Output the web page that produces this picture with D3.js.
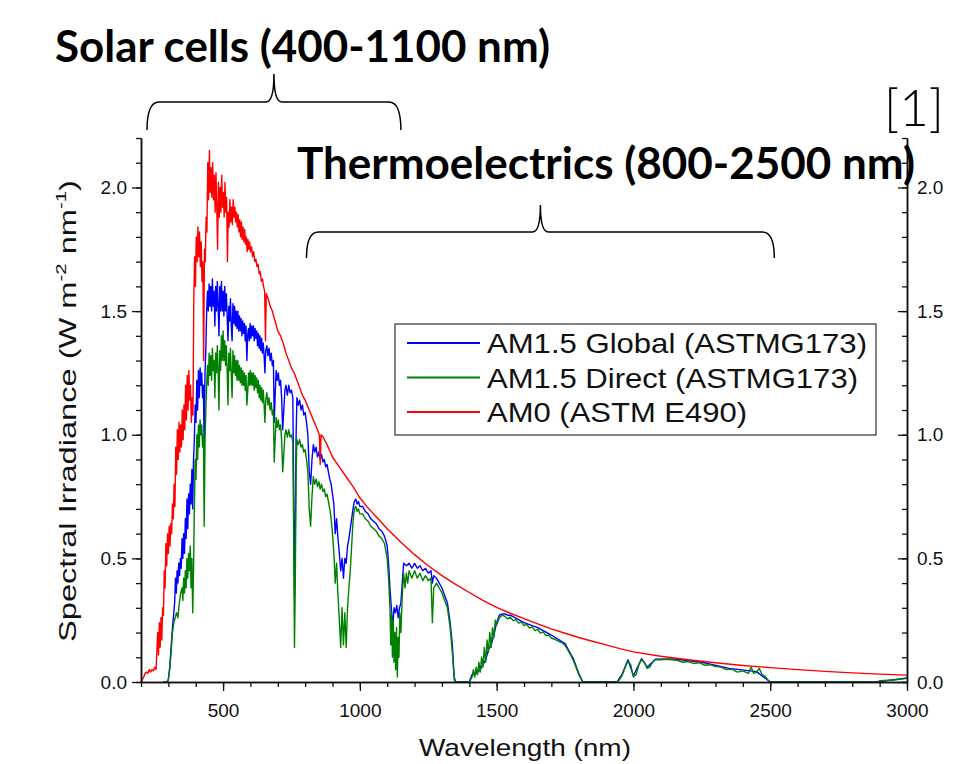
<!DOCTYPE html>
<html><head><meta charset="utf-8">
<script src="https://cdn.jsdelivr.net/npm/d3@7/dist/d3.min.js"></script>
<style>body{margin:0;background:#fff}svg{display:block}</style>
</head><body>
<script>
// ---------- DATA ----------
const xTicks = [500, 1000, 1500, 2000, 2500, 3000];
const yTicks = [0.0, 0.5, 1.0, 1.5, 2.0];
const seriesNames = ["AM1.5 Global (ASTMG173)", "AM1.5 Direct (ASTMG173)", "AM0 (ASTM E490)"];
const seriesColors = ["#0000ff", "#008000", "#ff0000"];
const annotations = ["Solar cells (400-1100 nm)", "Thermoelectrics (800-2500 nm)", "[1]"];
const braceRanges = [[222, 1150], [805, 2515]];

// AM0 (ASTM E490): [wavelength nm, W m^-2 nm^-1]
const am0 = [[200,0.00],[205,0.01],[210,0.02],[215,0.035],[220,0.04],[225,0.035],[230,0.05],[235,0.04],[240,0.05],[245,0.045],[250,0.06],[255,0.05],[258,0.12],[261,0.2],[264,0.11],[267,0.24],[270,0.14],[273,0.26],[276,0.17],[279,0.3],[282,0.27],[285,0.45],[288,0.38],[291,0.56],[294,0.47],[297,0.6],[300,0.52],[303,0.63],[306,0.55],[309,0.64],[312,0.6],[315,0.72],[318,0.66],[321,0.8],[324,0.71],[327,0.95],[330,0.84],[333,1.02],[336,0.9],[339,1.05],[342,0.93],[345,1.04],[348,0.95],[351,1.1],[354,0.98],[357,1.12],[360,1.02],[363,1.2],[366,1.06],[369,1.24],[372,1.1],[375,1.26],[378,1.14],[381,1.2],[384,1.05],[387,1.15],[390,1.08],[393,1.55],[396,1.72],[399,1.6],[402,1.8],[405,1.7],[408,1.84],[411,1.72],[414,1.82],[417,1.68],[420,1.78],[423,1.62],[426,1.7],[429,1.3],[432,1.75],[435,1.7],[438,1.88],[441,1.82],[444,2.1],[447,1.95],[450,2.15],[453,1.98],[456,2.08],[459,1.96],[462,2.1],[465,1.95],[468,2.05],[471,1.9],[474,2.06],[477,1.92],[480,1.75],[483,2.02],[486,1.88],[489,2.0],[492,1.9],[495,2.05],[498,1.92],[501,1.98],[504,1.88],[507,2.02],[510,1.9],[513,1.96],[516,1.7],[519,1.9],[522,1.84],[525,1.95],[528,1.86],[531,1.92],[534,1.85],[537,1.95],[540,1.88],[543,1.92],[546,1.86],[549,1.9],[552,1.84],[555,1.89],[558,1.82],[561,1.87],[564,1.8],[567,1.86],[570,1.79],[573,1.84],[576,1.78],[579,1.83],[582,1.77],[585,1.8],[588,1.74],[591,1.79],[594,1.75],[597,1.78],[600,1.74],[604,1.76],[608,1.72],[612,1.74],[616,1.7],[620,1.71],[624,1.68],[628,1.69],[632,1.65],[636,1.66],[640,1.62],[644,1.63],[648,1.6],[652,1.58],[655,1.38],[658,1.57],[665,1.55],[672,1.52],[680,1.5],[690,1.46],[700,1.42],[710,1.4],[720,1.37],[730,1.33],[740,1.3],[750,1.27],[760,1.25],[770,1.22],[780,1.19],[790,1.16],[800,1.14],[815,1.1],[830,1.06],[845,1.02],[852,1.0],[855,0.88],[858,1.0],[866,0.99],[880,0.96],[900,0.91],[925,0.87],[950,0.83],[975,0.79],[1000,0.745],[1025,0.71],[1050,0.68],[1075,0.65],[1100,0.62],[1150,0.565],[1200,0.515],[1250,0.47],[1300,0.43],[1350,0.395],[1400,0.362],[1450,0.33],[1500,0.302],[1550,0.278],[1600,0.256],[1650,0.235],[1700,0.215],[1750,0.197],[1800,0.18],[1850,0.165],[1900,0.15],[1950,0.135],[2000,0.122],[2100,0.104],[2200,0.09],[2300,0.078],[2400,0.067],[2500,0.058],[2600,0.05],[2700,0.043],[2800,0.037],[2900,0.032],[3000,0.028]];

// AM1.5 Global
const global15 = [[280,0],[295,0],[300,0.01],[305,0.06],[310,0.14],[315,0.22],[320,0.28],[323,0.32],[326,0.42],[329,0.36],[332,0.45],[335,0.4],[338,0.48],[341,0.43],[344,0.5],[347,0.46],[350,0.58],[353,0.5],[356,0.6],[359,0.52],[362,0.66],[365,0.58],[368,0.74],[371,0.62],[374,0.76],[377,0.68],[380,0.8],[383,0.72],[386,0.86],[389,0.7],[392,0.9],[395,0.98],[398,1.12],[401,1.05],[404,1.22],[407,1.1],[410,1.26],[413,1.15],[416,1.27],[419,1.2],[422,1.25],[425,1.15],[428,1.2],[431,0.95],[434,1.25],[437,1.35],[440,1.5],[443,1.58],[446,1.5],[449,1.61],[452,1.52],[455,1.6],[458,1.5],[461,1.63],[464,1.52],[467,1.58],[470,1.44],[473,1.6],[476,1.5],[479,1.62],[482,1.52],[485,1.4],[488,1.6],[491,1.5],[494,1.62],[497,1.5],[500,1.58],[503,1.48],[506,1.6],[509,1.5],[512,1.57],[515,1.48],[518,1.38],[521,1.52],[524,1.46],[527,1.55],[530,1.44],[533,1.38],[536,1.53],[539,1.45],[542,1.52],[545,1.44],[548,1.5],[551,1.43],[554,1.5],[557,1.42],[560,1.48],[563,1.42],[566,1.47],[569,1.4],[572,1.46],[575,1.41],[578,1.45],[581,1.38],[584,1.44],[587,1.3],[590,1.4],[593,1.43],[596,1.38],[599,1.45],[602,1.39],[605,1.44],[608,1.4],[611,1.44],[614,1.38],[617,1.43],[620,1.39],[623,1.42],[626,1.36],[629,1.41],[632,1.35],[635,1.4],[638,1.34],[641,1.39],[644,1.33],[647,1.37],[650,1.32],[653,1.25],[656,1.34],[660,1.36],[664,1.32],[668,1.35],[672,1.3],[676,1.33],[680,1.28],[684,1.3],[687,1.05],[690,1.15],[694,1.26],[698,1.22],[702,1.25],[706,1.2],[710,1.22],[714,1.15],[718,1.02],[722,1.1],[726,1.18],[730,1.2],[735,1.16],[740,1.2],[745,1.17],[750,1.18],[755,1.15],[758,0.8],[761,0.35],[764,0.6],[767,1.0],[770,1.15],[775,1.12],[780,1.14],[785,1.1],[790,1.12],[795,1.08],[800,1.09],[805,1.05],[810,1.0],[815,0.85],[820,0.8],[825,0.9],[830,0.96],[835,0.93],[840,0.95],[845,0.91],[850,0.93],[855,0.9],[860,0.92],[865,0.89],[870,0.9],[875,0.87],[880,0.88],[885,0.85],[890,0.82],[895,0.8],[900,0.76],[905,0.72],[910,0.6],[915,0.66],[920,0.58],[925,0.52],[930,0.45],[935,0.5],[940,0.42],[945,0.5],[950,0.48],[955,0.55],[960,0.58],[965,0.62],[970,0.66],[975,0.7],[980,0.73],[985,0.74],[990,0.72],[995,0.73],[1000,0.71],[1010,0.71],[1020,0.69],[1030,0.68],[1040,0.66],[1050,0.65],[1060,0.64],[1070,0.62],[1080,0.61],[1090,0.59],[1100,0.55],[1105,0.48],[1110,0.38],[1115,0.3],[1120,0.22],[1125,0.3],[1130,0.28],[1135,0.31],[1140,0.26],[1145,0.3],[1150,0.32],[1155,0.4],[1160,0.48],[1170,0.47],[1180,0.48],[1190,0.46],[1200,0.48],[1210,0.46],[1220,0.47],[1230,0.45],[1240,0.46],[1250,0.44],[1260,0.45],[1265,0.4],[1270,0.43],[1280,0.42],[1290,0.4],[1300,0.38],[1310,0.35],[1320,0.32],[1330,0.24],[1338,0.15],[1345,0.02],[1350,0],[1400,0],[1410,0.03],[1420,0.03],[1430,0.04],[1440,0.05],[1450,0.07],[1460,0.09],[1470,0.13],[1480,0.15],[1490,0.19],[1500,0.24],[1510,0.27],[1520,0.275],[1530,0.275],[1540,0.27],[1550,0.27],[1600,0.24],[1650,0.22],[1700,0.19],[1750,0.155],[1780,0.095],[1800,0.035],[1815,0],[1940,0],[1960,0.035],[1980,0.09],[2000,0.025],[2030,0.095],[2050,0.06],[2080,0.092],[2150,0.093],[2250,0.08],[2350,0.055],[2450,0.042],[2500,0],[2890,0],[3000,0.016]];

// AM1.5 Direct
const direct15 = [[290,0],[297,0],[300,0.01],[305,0.05],[310,0.12],[315,0.2],[320,0.24],[325,0.26],[330,0.28],[335,0.26],[340,0.32],[345,0.36],[350,0.38],[353,0.33],[356,0.42],[359,0.36],[362,0.45],[365,0.38],[368,0.5],[371,0.42],[374,0.52],[377,0.45],[380,0.55],[383,0.38],[386,0.5],[389,0.28],[392,0.45],[395,0.7],[398,0.9],[401,0.82],[404,1.0],[407,0.9],[410,1.04],[413,0.95],[416,1.06],[419,1.0],[422,1.04],[425,0.95],[428,1.0],[431,0.63],[434,0.98],[437,1.1],[440,1.2],[443,1.28],[446,1.2],[449,1.33],[452,1.24],[455,1.32],[458,1.22],[461,1.35],[464,1.26],[467,1.3],[470,1.15],[473,1.33],[476,1.25],[479,1.36],[482,1.26],[485,1.1],[488,1.34],[491,1.26],[494,1.4],[497,1.3],[500,1.42],[503,1.3],[506,1.38],[509,1.28],[512,1.36],[515,1.26],[518,1.12],[521,1.33],[524,1.26],[527,1.35],[530,1.24],[533,1.15],[536,1.34],[539,1.25],[542,1.32],[545,1.24],[548,1.3],[551,1.22],[554,1.3],[557,1.22],[560,1.28],[563,1.21],[566,1.27],[569,1.2],[572,1.26],[575,1.2],[578,1.25],[581,1.18],[584,1.24],[587,1.12],[590,1.17],[593,1.25],[596,1.2],[599,1.26],[602,1.2],[605,1.25],[608,1.2],[611,1.25],[614,1.18],[617,1.24],[620,1.19],[623,1.23],[626,1.17],[629,1.22],[632,1.15],[635,1.2],[638,1.14],[641,1.19],[644,1.13],[647,1.18],[650,1.12],[653,1.05],[656,1.14],[660,1.17],[664,1.12],[668,1.15],[672,1.1],[676,1.13],[680,1.08],[684,1.1],[687,0.89],[690,0.97],[694,1.07],[698,1.03],[702,1.06],[706,1.02],[710,1.04],[714,0.98],[718,0.85],[722,0.92],[726,1.0],[730,1.02],[735,0.99],[740,1.02],[745,0.99],[750,1.0],[755,0.97],[758,0.6],[761,0.14],[764,0.4],[767,0.85],[770,0.98],[775,0.96],[780,0.98],[785,0.95],[790,0.96],[795,0.93],[800,0.94],[805,0.9],[810,0.85],[815,0.7],[820,0.63],[825,0.75],[830,0.83],[835,0.8],[840,0.82],[845,0.79],[850,0.81],[855,0.78],[860,0.8],[865,0.77],[870,0.78],[875,0.75],[880,0.76],[885,0.73],[890,0.7],[895,0.66],[900,0.6],[905,0.52],[910,0.4],[915,0.48],[920,0.35],[925,0.25],[930,0.14],[935,0.3],[940,0.15],[945,0.28],[950,0.14],[955,0.3],[960,0.38],[965,0.45],[970,0.55],[975,0.65],[980,0.7],[985,0.71],[990,0.69],[995,0.7],[1000,0.68],[1010,0.68],[1020,0.66],[1030,0.65],[1040,0.63],[1050,0.62],[1060,0.61],[1070,0.59],[1080,0.58],[1090,0.56],[1100,0.5],[1105,0.42],[1110,0.3],[1113,0.15],[1116,0.28],[1119,0.1],[1122,0.25],[1125,0.08],[1128,0.2],[1131,0.05],[1134,0.22],[1137,0.02],[1140,0.18],[1143,0.1],[1146,0.28],[1150,0.2],[1155,0.35],[1160,0.44],[1165,0.38],[1170,0.44],[1175,0.4],[1180,0.45],[1190,0.42],[1200,0.45],[1210,0.42],[1220,0.44],[1230,0.41],[1240,0.43],[1250,0.41],[1260,0.42],[1265,0.24],[1270,0.38],[1280,0.4],[1290,0.38],[1300,0.36],[1310,0.33],[1320,0.3],[1330,0.22],[1338,0.12],[1345,0.01],[1350,0],[1400,0],[1410,0.02],[1415,0.05],[1420,0.02],[1425,0.06],[1430,0.03],[1435,0.08],[1440,0.04],[1445,0.1],[1450,0.06],[1455,0.14],[1460,0.08],[1465,0.17],[1470,0.12],[1475,0.2],[1480,0.14],[1485,0.22],[1490,0.18],[1495,0.25],[1500,0.23],[1510,0.26],[1520,0.27],[1530,0.265],[1540,0.255],[1550,0.262],[1560,0.248],[1570,0.252],[1580,0.238],[1590,0.243],[1600,0.228],[1610,0.233],[1620,0.218],[1630,0.223],[1640,0.208],[1650,0.213],[1660,0.198],[1670,0.203],[1680,0.188],[1690,0.19],[1700,0.178],[1710,0.174],[1720,0.168],[1730,0.163],[1740,0.158],[1750,0.148],[1760,0.13],[1770,0.11],[1780,0.088],[1790,0.06],[1800,0.03],[1810,0.01],[1815,0],[1940,0],[1950,0.01],[1960,0.03],[1970,0.06],[1980,0.085],[1990,0.07],[2000,0.02],[2010,0.03],[2020,0.07],[2030,0.09],[2040,0.08],[2050,0.055],[2060,0.06],[2070,0.08],[2080,0.09],[2100,0.09],[2120,0.092],[2140,0.09],[2160,0.088],[2180,0.08],[2200,0.083],[2220,0.075],[2240,0.078],[2260,0.068],[2280,0.07],[2300,0.062],[2320,0.06],[2340,0.05],[2360,0.052],[2380,0.04],[2400,0.045],[2420,0.035],[2430,0.06],[2440,0.035],[2450,0.04],[2460,0.055],[2470,0.03],[2480,0.025],[2490,0.01],[2500,0],[2890,0],[2900,0.005],[2950,0.008],[3000,0.015]];

const seriesData = [global15, direct15, am0];

// ---------- LAYOUT ----------
const W = 955, H = 764;
const sans = "'Liberation Sans', Arial, sans-serif";
const svg = d3.select("body").append("svg").attr("width", W).attr("height", H)
  .style("font-family", sans);

const x = d3.scaleLinear().domain([200, 3000]).range([141, 907]);
const y = d3.scaleLinear().domain([0, 2.2]).range([682, 138]);

// data lines
const line = d3.line().x(d => x(d[0])).y(d => y(d[1]));
seriesData.forEach((s, i) => {
  svg.append("path").datum(s).attr("d", line)
    .attr("fill", "none").attr("stroke", seriesColors[i])
    .attr("stroke-width", 1.4).attr("stroke-linejoin", "round");
});

// axes
const fmt = d3.format(".1f");
const yMinor = d3.range(0, 2.21, 0.1);
const xMinor = d3.range(200, 3001, 100);

svg.append("g").attr("transform", `translate(${x.range()[0]},0)`)
  .call(d3.axisLeft(y).tickValues(yMinor).tickFormat("").tickSize(5).tickSizeOuter(0));
svg.append("g").attr("transform", `translate(${x.range()[0]},0)`)
  .call(d3.axisLeft(y).tickValues(yTicks).tickFormat(fmt).tickSize(9).tickSizeOuter(0).tickPadding(5));

svg.append("g").attr("transform", `translate(${x.range()[1]},0)`)
  .call(d3.axisRight(y).tickValues(yMinor).tickFormat("").tickSize(-5).tickSizeOuter(0));
const rightMaj = svg.append("g").attr("transform", `translate(${x.range()[1]},0)`)
  .call(d3.axisRight(y).tickValues(yTicks).tickFormat(fmt).tickSize(-9).tickSizeOuter(0));
rightMaj.selectAll("text").attr("x", 10);

svg.append("g").attr("transform", `translate(0,${y.range()[0]})`)
  .call(d3.axisBottom(x).tickValues(xMinor).tickFormat("").tickSize(5).tickSizeOuter(0));
svg.append("g").attr("transform", `translate(0,${y.range()[0]})`)
  .call(d3.axisBottom(x).tickValues(xTicks).tickFormat(d3.format("d")).tickSize(9).tickSizeOuter(0).tickPadding(13));

svg.selectAll(".domain").attr("stroke", "#111").attr("stroke-width", 1.5);
svg.selectAll(".tick line").attr("stroke", "#111").attr("stroke-width", 1.3);
svg.selectAll(".tick text").attr("font-size", 19).attr("fill", "#111")
  .attr("font-family", sans);

// axis titles
svg.append("text").attr("x", 525).attr("y", 756).attr("text-anchor", "middle")
  .attr("font-size", 24).attr("fill", "#111")
  .attr("textLength", 212).attr("lengthAdjust", "spacingAndGlyphs").text("Wavelength (nm)");

const yt = svg.append("text").attr("transform", "translate(76,411) rotate(-90)")
  .attr("text-anchor", "middle").attr("font-size", 24).attr("fill", "#111")
  .attr("textLength", 462).attr("lengthAdjust", "spacingAndGlyphs");
yt.append("tspan").text("Spectral Irradiance (W m");
yt.append("tspan").attr("font-size", 15).attr("dy", -10).text("-2");
yt.append("tspan").attr("dy", 10).text(" nm");
yt.append("tspan").attr("font-size", 15).attr("dy", -10).text("-1");
yt.append("tspan").attr("dy", 10).text(")");

// legend
const legendLens = [380, 371, 260];
const lg = svg.append("g").attr("transform", "translate(395,324)");
lg.append("rect").attr("width", 481).attr("height", 111)
  .attr("fill", "#fff").attr("stroke", "#333").attr("stroke-width", 1.2);
seriesNames.forEach((n, i) => {
  const yy = 19 + i * 34.5;
  lg.append("line").attr("x1", 12).attr("x2", 85).attr("y1", yy).attr("y2", yy)
    .attr("stroke", seriesColors[i]).attr("stroke-width", 2.2);
  lg.append("text").attr("x", 92).attr("y", yy + 10).attr("font-size", 28).attr("fill", "#111")
    .attr("textLength", legendLens[i]).attr("lengthAdjust", "spacingAndGlyphs")
    .text(n);
});

// annotations
const bold = "Lato, 'Open Sans', sans-serif";
svg.append("text").attr("x", 55).attr("y", 62).attr("font-family", bold)
  .attr("font-weight", "bold").attr("font-size", 44)
  .attr("textLength", 495).attr("lengthAdjust", "spacingAndGlyphs").text(annotations[0]);
svg.append("text").attr("x", 297).attr("y", 179).attr("font-family", bold)
  .attr("font-weight", "bold").attr("font-size", 44)
  .attr("textLength", 618).attr("lengthAdjust", "spacingAndGlyphs").text(annotations[1]);
svg.append("text").attr("x", 884).attr("y", 126).attr("font-family", bold)
  .attr("font-size", 52).attr("font-weight", 300)
  .attr("textLength", 60).attr("lengthAdjust", "spacingAndGlyphs").text(annotations[2]);

function brace(x0, x1, yLine, yEnd, yTip) {
  const xm = (x0 + x1) / 2, r = 12;
  return `M${x0},${yEnd} Q${x0},${yLine} ${x0 + r},${yLine} L${xm - 8},${yLine} Q${xm},${yLine} ${xm},${yTip} Q${xm},${yLine} ${xm + 8},${yLine} L${x1 - r},${yLine} Q${x1},${yLine} ${x1},${yEnd}`;
}
svg.append("path").attr("d", brace(x(braceRanges[0][0]), x(braceRanges[0][1]), 102, 130, 74))
  .attr("fill", "none").attr("stroke", "#000").attr("stroke-width", 1.5);
svg.append("path").attr("d", brace(x(braceRanges[1][0]), x(braceRanges[1][1]), 232, 258, 205))
  .attr("fill", "none").attr("stroke", "#000").attr("stroke-width", 1.5);
</script>
</body></html>
